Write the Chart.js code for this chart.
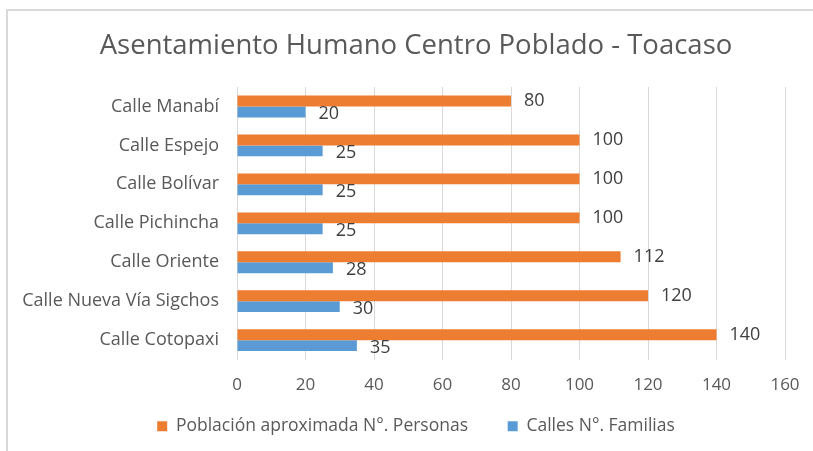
<!DOCTYPE html>
<html>
<head>
<meta charset="utf-8">
<script src="https://cdn.jsdelivr.net/npm/chart.js@4"></script>
<style>
    body { margin: 0; background: #fff; }
    .frame {
        position: absolute; left: 6px; top: 9px; width: 807px; height: 442px;
        border-top: 2px solid #d9d9d9; border-left: 2px solid #d9d9d9;
    }
    .wrap { position: absolute; left: 0; top: 0; width: 813px; height: 451px; }
</style>
</head>
<body>
<div class="frame"></div>
<div class="wrap"><canvas id="chart"></canvas></div>
<script>
// Data
const categories = ['Calle Manabí', 'Calle Espejo', 'Calle Bolívar', 'Calle Pichincha',
    'Calle Oriente', 'Calle Nueva Vía Sigchos', 'Calle Cotopaxi'];
const poblacion = [80, 100, 100, 100, 112, 120, 140];
const familias = [20, 25, 25, 25, 28, 30, 35];
const xMax = 160;
const xStep = 20;

const textColor = '#595959';
const fontFamily = '"Open Sans", "Liberation Sans", sans-serif';

// draws the value just after the end of each bar
const valueLabels = {
    id: 'valueLabels',
    afterDatasetsDraw(chart) {
        const ctx = chart.ctx;
        ctx.save();
        ctx.font = '18px ' + fontFamily;
        ctx.fillStyle = '#404040';
        ctx.textBaseline = 'middle';
        ctx.textAlign = 'left';
        chart.data.datasets.forEach((ds, i) => {
            chart.getDatasetMeta(i).data.forEach((bar, j) => {
                const dy = i === 0 ? 0 : 2;
                ctx.fillText(ds.data[j], bar.x + 13, bar.y + dy);
            });
        });
        ctx.restore();
    }
};

const ctx = document.getElementById('chart').getContext('2d');

new Chart(ctx, {
    type: 'bar',
    data: {
        labels: categories,
        datasets: [
            {
                label: 'Población aproximada N°. Personas',
                data: poblacion,
                backgroundColor: '#ed7d31',
                categoryPercentage: 0.56,
                barPercentage: 1
            },
            {
                label: 'Calles N°. Familias',
                data: familias,
                backgroundColor: '#5b9bd5',
                categoryPercentage: 0.56,
                barPercentage: 1
            }
        ]
    },
    options: {
        indexAxis: 'y',
        responsive: true,
        maintainAspectRatio: false,
        animation: false,
        layout: {
            padding: { left: 19, right: 0, top: 0, bottom: 6 }
        },
        scales: {
            x: {
                min: 0,
                max: xMax,
                ticks: {
                    stepSize: xStep,
                    color: textColor,
                    font: { size: 17, family: fontFamily },
                    padding: 15
                },
                grid: { color: '#d9d9d9', drawTicks: false },
                border: { display: false },
                afterFit(scale) {
                    scale.paddingRight = 28;
                    scale.height -= 3;
                }
            },
            y: {
                ticks: {
                    color: textColor,
                    font: { size: 18, family: fontFamily },
                    padding: 10
                },
                grid: { display: false },
                border: { display: false },
                afterFit(scale) { scale.width = 218; }
            }
        },
        plugins: {
            title: {
                display: true,
                text: 'Asentamiento Humano Centro Poblado - Toacaso',
                color: textColor,
                font: { size: 27.5, weight: 'normal', family: fontFamily },
                padding: { top: 30, bottom: 24 }
            },
            legend: {
                position: 'bottom',
                labels: {
                    color: textColor,
                    font: { size: 17.5, family: fontFamily },
                    boxWidth: 10,
                    boxHeight: 10,
                    padding: 10.5,
                    // wider gap between the two legend entries
                    generateLabels(chart) {
                        const items = Chart.defaults.plugins.legend.labels.generateLabels(chart);
                        items.forEach((item, i) => {
                            if (i < items.length - 1) item.text += '\u2003\u2002\u2009';
                        });
                        return items;
                    }
                }
            },
            tooltip: { enabled: false }
        }
    },
    plugins: [valueLabels]
});
</script>
</body>
</html>
